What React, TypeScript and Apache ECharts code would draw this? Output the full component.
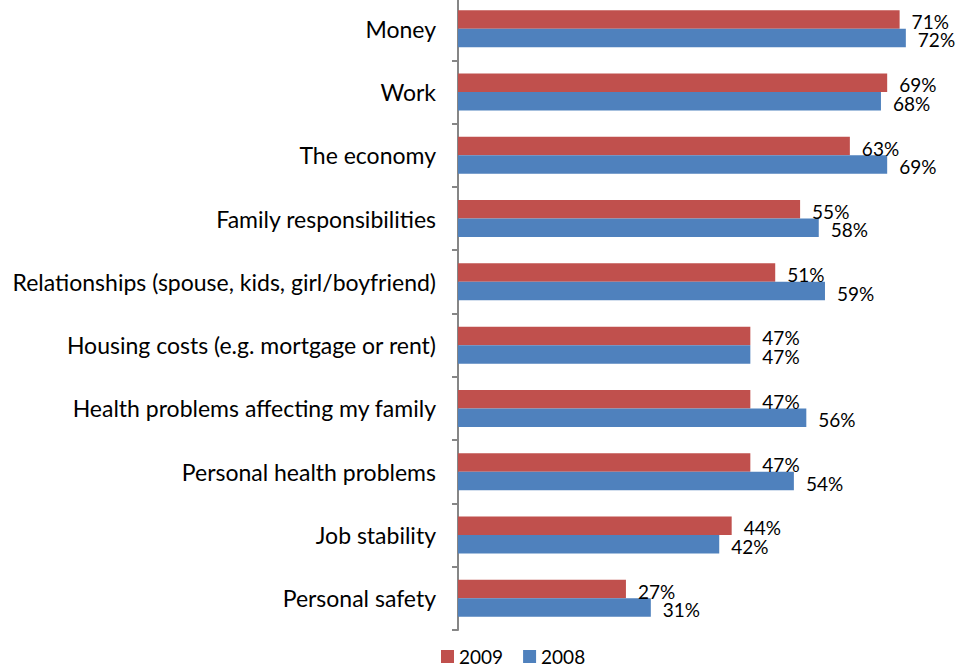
import React, { useEffect, useRef } from "react";
import * as echarts from "echarts";

const categories = [
  "Money",
  "Work",
  "The economy",
  "Family responsibilities",
  "Relationships (spouse, kids, girl/boyfriend)",
  "Housing costs (e.g. mortgage or rent)",
  "Health problems affecting my family",
  "Personal health problems",
  "Job stability",
  "Personal safety",
];
const values2009 = [71, 69, 63, 55, 51, 47, 47, 47, 44, 27];
const values2008 = [72, 68, 69, 58, 59, 47, 56, 54, 42, 31];
const seriesNames = ["2009", "2008"];
const colors = ["#C0504D", "#4F81BD"];

const FONT = "Lato";
const SHIFT = 3;

export default function App() {
  const ref = useRef<HTMLDivElement>(null);
  useEffect(() => {
    if (!ref.current) return;
    const chart = echarts.init(ref.current, undefined, { renderer: "svg" });
    const label = {
      show: true,
      position: "right" as const,
      distance: 12,
      offset: [0, 2],
      formatter: "{c}%",
      color: "#000",
      fontFamily: FONT,
      fontSize: 19,
    };
    chart.setOption({
      animation: false,
      backgroundColor: "#fff",
      grid: { left: 458, top: 0, width: 497.6, height: 633 },
      legend: {
        data: seriesNames,
        left: 436,
        top: 642 + SHIFT,
        icon: "rect",
        itemWidth: 13,
        itemHeight: 13,
        itemGap: 20,
        textStyle: { fontFamily: FONT, fontSize: 19, color: "#000" },
      },
      xAxis: {
        type: "value",
        min: 0,
        max: 80,
        show: false,
      },
      yAxis: {
        type: "category",
        data: categories,
        inverse: true,
        axisLine: { show: true, lineStyle: { color: "#868686", width: 2 } },
        axisTick: { show: true, length: 6, lineStyle: { color: "#868686", width: 2 } },
        axisLabel: {
          margin: 22,
          color: "#000",
          fontFamily: FONT,
          fontSize: 23,
        },
      },
      series: [
        {
          name: seriesNames[0],
          type: "bar",
          data: values2009,
          barWidth: 18.5,
          barGap: "0%",
          itemStyle: { color: colors[0] },
          label,
        },
        {
          name: seriesNames[1],
          type: "bar",
          data: values2008,
          barWidth: 18.5,
          barGap: "0%",
          itemStyle: { color: colors[1] },
          label,
        },
      ],
    });
    return () => chart.dispose();
  }, []);
  return (
    <div
      ref={ref}
      style={{
        position: "fixed",
        left: 0,
        top: -SHIFT,
        width: 961,
        height: 668 + SHIFT,
        background: "#fff",
      }}
    />
  );
}
